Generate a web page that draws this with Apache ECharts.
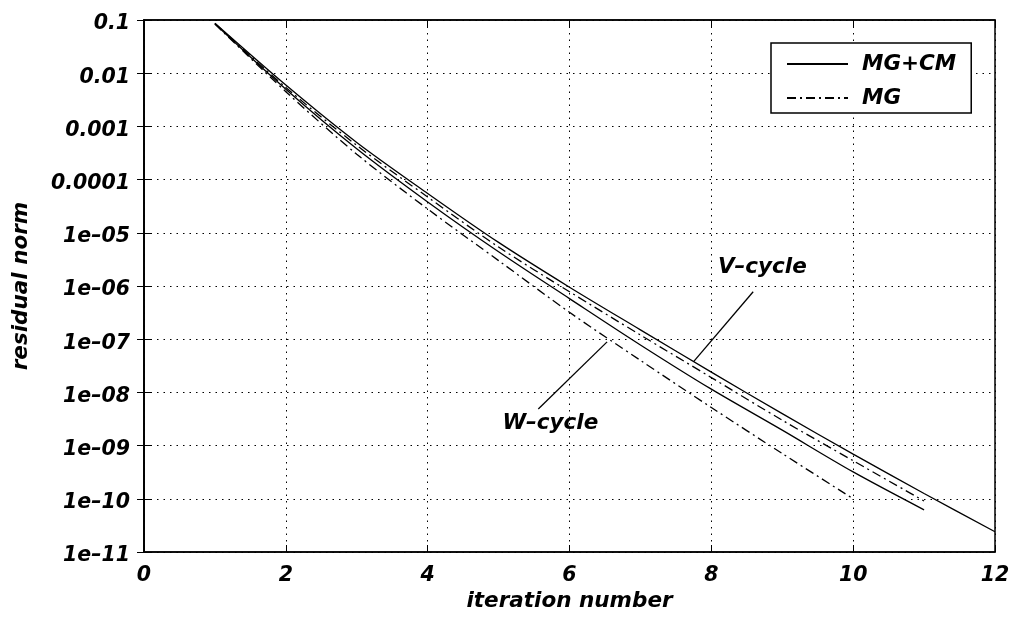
<!DOCTYPE html>
<html>
<head>
<meta charset="utf-8">
<script src="https://cdn.jsdelivr.net/npm/echarts@6/dist/echarts.min.js"></script>
<style>
html,body{margin:0;padding:0;background:#fff;}
#chart{width:1016px;height:621px;}
</style>
</head>
<body>
<div id="chart"></div>
<script>
// ---- data ----
const iterations = [1,2,3,4,5,6,7,8,9,10,11,12];
const vCycleMGCM = [8.7e-2, 6.0e-3, 5.0e-4, 5.5e-5, 6.6e-6, 9.5e-7, 1.5e-7, 2.4e-8, 4.0e-9, 6.9e-10, 1.26e-10, 2.4e-11];
const vCycleMG   = [8.6e-2, 5.4e-3, 4.4e-4, 4.7e-5, 5.4e-6, 7.8e-7, 1.2e-7, 1.9e-8, 3.0e-9, 5.2e-10, 9.1e-11];
const wCycleMGCM = [8.5e-2, 5.0e-3, 3.8e-4, 3.8e-5, 4.4e-6, 5.8e-7, 7.8e-8, 1.15e-8, 1.95e-9, 3.2e-10, 6.2e-11];
const wCycleMG   = [8.4e-2, 4.5e-3, 3.0e-4, 2.8e-5, 3.0e-6, 3.2e-7, 4.0e-8, 5.2e-9, 7.1e-10, 1.0e-10];
const xTickLabels = ['0','2','4','6','8','10','12'];
const yTickLabels = ['1e\u201311','1e\u201310','1e\u201309','1e\u201308','1e\u201307','1e\u201306','1e\u201305','0.0001','0.001','0.01','0.1'];
const legendNames = ['MG+CM','MG'];
// annotations (data coordinates)
const vLeader = [[8.59, 7.8e-7],[7.75, 3.78e-8]];
const wLeader = [[5.56, 4.88e-9],[6.53, 8.9e-8]];
const cycleLabels = [
  {name:'V\u2013cycle', value:[8.72, 2.2e-6]},
  {name:'W\u2013cycle', value:[5.73, 2.66e-9]}
];

// residual axis is drawn in decades: the value axis runs over log10 of the residual
const toLog = v => Math.log10(v);
const FONT = '"DejaVu Sans", Verdana, sans-serif';
const pair = arr => arr.map((v,i)=>[iterations[i], toLog(v)]);
const logPts = arr => arr.map(p=>[p[0], toLog(p[1])]);
const dashDot = [9,4,2,4];
const solidStyle = {color:'#000', width:1.3, type:'solid'};
const ddStyle = {color:'#000', width:1.3, type:dashDot};

const chart = echarts.init(document.getElementById('chart'), null, {renderer:'canvas'});
const txt = {fontFamily:FONT, fontWeight:'bold', fontStyle:'italic', fontSize:21.5, color:'#000'};
const tickTxt = {fontFamily:FONT, fontWeight:'bold', fontStyle:'italic', fontSize:20.5, color:'#000'};

const option = {
  backgroundColor:'#fff',
  animation:false,
  grid:{left:144, top:20, right:21, bottom:69, show:true, borderColor:'#000', borderWidth:1.5},
  legend:{
    data:legendNames,
    orient:'vertical',
    left:771, top:43,
    itemWidth:61, itemHeight:14, itemGap:10,
    padding:[9,15,3,15],
    borderColor:'#000', borderWidth:1.5, backgroundColor:'#fff',
    itemStyle:{color:'rgba(0,0,0,0)', borderWidth:0, opacity:0},
    textStyle:Object.assign({lineHeight:24, padding:[0,0,0,9]}, txt),
    selectedMode:false
  },
  xAxis:[
    {type:'value', min:0, max:12, interval:2, position:'bottom',
     name:'iteration number', nameLocation:'middle', nameGap:37,
     nameTextStyle:txt,
     axisLine:{show:true, lineStyle:{color:'#000', width:1.5}},
     axisTick:{show:true, inside:true, length:7, lineStyle:{color:'#000', width:1}},
     axisLabel:Object.assign({margin:14, formatter:(v)=>xTickLabels[Math.round(v/2)]}, tickTxt),
     splitLine:{show:true, lineStyle:{color:'#000', width:1, type:[1.5,5]}}},
    {type:'value', min:0, max:12, interval:2, position:'top',
     axisLine:{show:true, lineStyle:{color:'#000', width:1.5}},
     axisTick:{show:true, inside:true, length:7, lineStyle:{color:'#000', width:1}},
     axisLabel:{show:false}, splitLine:{show:false}}
  ],
  yAxis:[
    {type:'value', min:-11, max:-1, interval:1, position:'left',
     name:'residual norm', nameLocation:'middle', nameGap:112, nameRotate:90,
     nameTextStyle:txt,
     axisLine:{show:true, lineStyle:{color:'#000', width:1.5}},
     axisTick:{show:true, inside:true, length:7, lineStyle:{color:'#000', width:1}},
     axisLabel:Object.assign({margin:14, verticalAlign:'top', lineHeight:8, formatter:(v)=>yTickLabels[Math.round(v)+11]||''}, tickTxt),
     splitLine:{show:true, lineStyle:{color:'#000', width:1, type:[1.5,5]}}},
    {type:'value', min:-11, max:-1, interval:1, position:'right',
     axisLine:{show:true, lineStyle:{color:'#000', width:1.5}},
     axisTick:{show:true, inside:true, length:7, lineStyle:{color:'#000', width:1}},
     axisLabel:{show:false}, splitLine:{show:false}}
  ],
  series:[
    {name:'MG+CM', type:'line', data:pair(vCycleMGCM), symbol:'none', smooth:0.3, lineStyle:solidStyle, itemStyle:{color:'#000'}, z:3},
    {name:'MG', type:'line', data:pair(vCycleMG), symbol:'none', smooth:0.3, lineStyle:ddStyle, itemStyle:{color:'#000'}, z:3},
    {name:'MG+CM', type:'line', data:pair(wCycleMGCM), symbol:'none', smooth:0.3, lineStyle:solidStyle, itemStyle:{color:'#000'}, z:3},
    {name:'MG', type:'line', data:pair(wCycleMG), symbol:'none', smooth:0.3, lineStyle:ddStyle, itemStyle:{color:'#000'}, z:3},
    {name:'vLeader', type:'line', data:logPts(vLeader), symbol:'none', lineStyle:{color:'#000', width:1.3}, silent:true, z:4},
    {name:'wLeader', type:'line', data:logPts(wLeader), symbol:'none', lineStyle:{color:'#000', width:1.3}, silent:true, z:4},
    {name:'cycleLabels', type:'scatter', data:cycleLabels.map(d=>({name:d.name, value:[d.value[0], toLog(d.value[1])]})),
     symbolSize:1, itemStyle:{color:'rgba(0,0,0,0)', opacity:1}, silent:true, z:5,
     label:Object.assign({show:true, position:'inside', opacity:1, textBorderWidth:0, formatter:(p)=>p.name}, txt)}
  ]
};
chart.setOption(option);
</script>
</body>
</html>
